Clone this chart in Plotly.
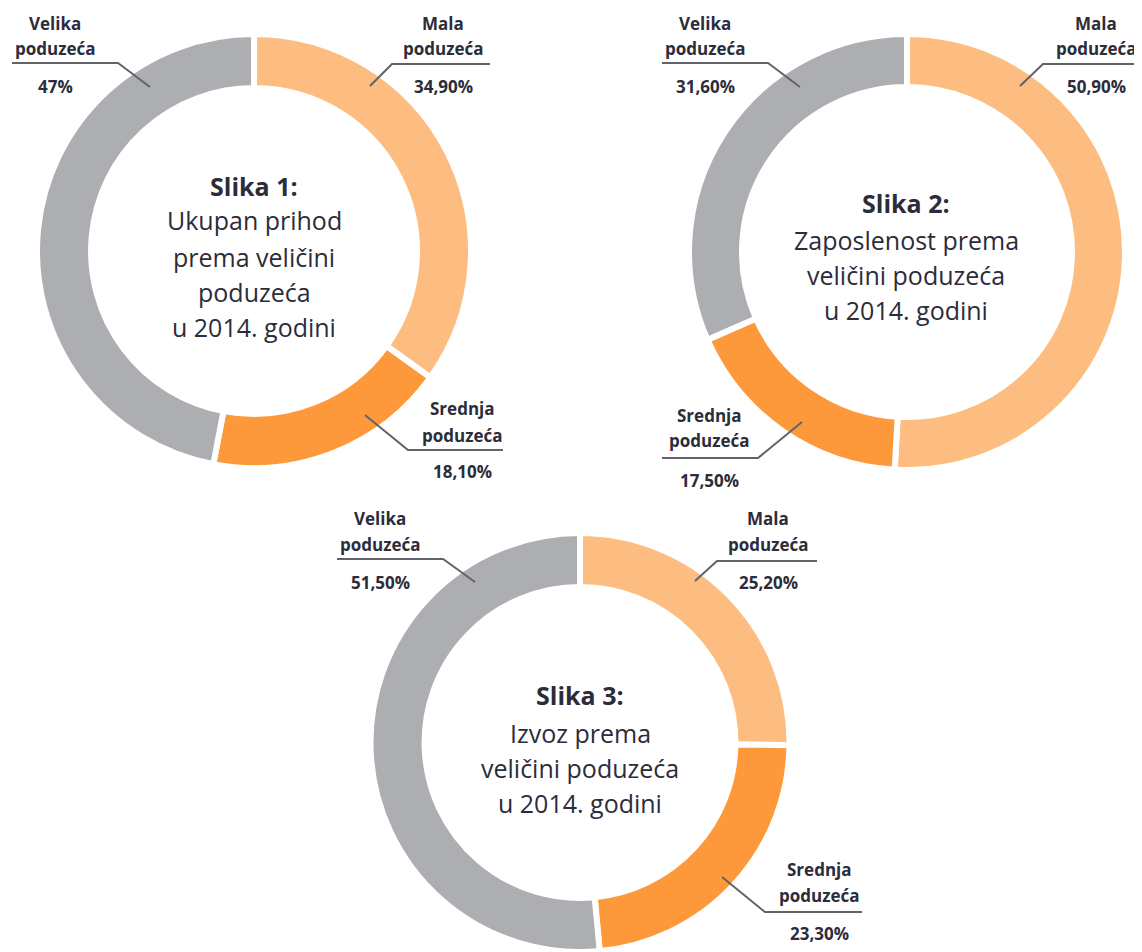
import plotly.graph_objects as go

# ---------------- data ----------------
categories = ["Mala poduzeća", "Srednja poduzeća", "Velika poduzeća"]
label_lines = [["Mala", "poduzeća"], ["Srednja", "poduzeća"], ["Velika", "poduzeća"]]
prihod = [34.9, 18.1, 47.0]        # Slika 1
zaposlenost = [50.9, 17.5, 31.6]   # Slika 2
izvoz = [25.2, 23.3, 51.5]         # Slika 3

titles = [
    ["Slika 1:", "Ukupan prihod", "prema veličini", "poduzeća", "u 2014. godini"],
    ["Slika 2:", "Zaposlenost prema", "veličini poduzeća", "u 2014. godini"],
    ["Slika 3:", "Izvoz prema", "veličini poduzeća", "u 2014. godini"],
]

colors = ["#FDBD80", "#FD993B", "#ADAEB2"]
TEXT = "#2c2c3a"
LINE = "#62636a"
OFF = 8                      # page body margin of the html page
W, H = 1142 - OFF, 952 - OFF


def px(x, y):
    return (x - OFF) / W, 1 - (y - OFF) / H


def fmt(v):
    if float(v).is_integer():
        return f"{int(v)}%"
    return f"{v:.2f}".replace(".", ",") + "%"


# ---------------- layout config (screen pixels) ----------------
donuts = [
    dict(x0=37, x1=471, y0=34, y1=468, hole=0.751),
    dict(x0=689, x1=1125, y0=34, y1=470, hole=0.757),
    dict(x0=370.5, x1=789.5, y0=533, y1=952, hole=0.742),
]
center_text = [
    dict(cx=254, ys=[186, 220, 257, 292, 327]),
    dict(cx=906, ys=[203, 240, 275, 310]),
    dict(cx=580, ys=[695, 733, 768, 803]),
]
leaders = [
    [
        dict(cx=443, ys=(23, 48, 86), pts=[(370, 86), (392, 64), (490, 64)]),
        dict(cx=462, ys=(408, 435, 471), pts=[(365, 415), (408, 450), (503, 450)]),
        dict(cx=55, ys=(23, 48, 86), pts=[(150, 87), (118, 63), (12, 63)]),
    ],
    [
        dict(cx=1096, ys=(23, 48, 86), pts=[(1020, 86), (1043, 64), (1142, 64)]),
        dict(cx=709, ys=(415, 440, 480), pts=[(802, 422), (758, 458), (662, 458)]),
        dict(cx=705, ys=(23, 48, 86), pts=[(800, 87), (768, 63), (662, 63)]),
    ],
    [
        dict(cx=768, ys=(518, 544, 582), pts=[(695, 581), (717, 561), (817, 561)]),
        dict(cx=819, ys=(869, 895, 933), pts=[(722, 877), (765, 912), (862, 912)]),
        dict(cx=380, ys=(518, 544, 582), pts=[(475, 582), (443, 559), (337, 559)]),
    ],
]

series = [prihod, zaposlenost, izvoz]

fig = go.Figure()
annotations = []
shapes = []

for i, vals in enumerate(series):
    d = donuts[i]
    x0, y0 = px(d["x0"], d["y0"])
    x1, y1 = px(d["x1"], d["y1"])
    fig.add_trace(go.Pie(
        labels=categories,
        values=vals,
        sort=False,
        direction="clockwise",
        rotation=0,
        hole=d["hole"],
        textinfo="none",
        hovertemplate="%{label}: %{value}%<extra></extra>",
        marker=dict(colors=colors, line=dict(color="white", width=6)),
        domain=dict(x=[max(0, x0), min(1, x1)], y=[max(0, y1), min(1, y0)]),
        showlegend=False,
    ))

    ct = center_text[i]
    for j, (line, y) in enumerate(zip(titles[i], ct["ys"])):
        xx, yy = px(ct["cx"], y)
        annotations.append(dict(
            x=xx, y=yy, xref="paper", yref="paper", showarrow=False,
            xanchor="center", yanchor="middle",
            text=f"<b>{line}</b>" if j == 0 else line,
            font=dict(family="Open Sans", size=25, color=TEXT),
        ))

    for k, v in enumerate(vals):
        L = leaders[i][k]
        texts = label_lines[k] + [fmt(v)]
        for t, y in zip(texts, L["ys"]):
            xx, yy = px(L["cx"], y)
            annotations.append(dict(
                x=xx, y=yy, xref="paper", yref="paper", showarrow=False,
                xanchor="center", yanchor="middle",
                text=f"<b>{t}</b>",
                font=dict(family="Open Sans", size=17, color=TEXT),
            ))
        p = [px(a, b) for a, b in L["pts"]]
        path = "M " + " L ".join(f"{a:.5f},{b:.5f}" for a, b in p)
        shapes.append(dict(type="path", xref="paper", yref="paper", path=path,
                           line=dict(color=LINE, width=2)))

fig.update_layout(
    width=W, height=H,
    margin=dict(l=0, r=0, t=0, b=0),
    paper_bgcolor="white",
    plot_bgcolor="white",
    annotations=annotations,
    shapes=shapes,
)

fig.write_html("out.html")
